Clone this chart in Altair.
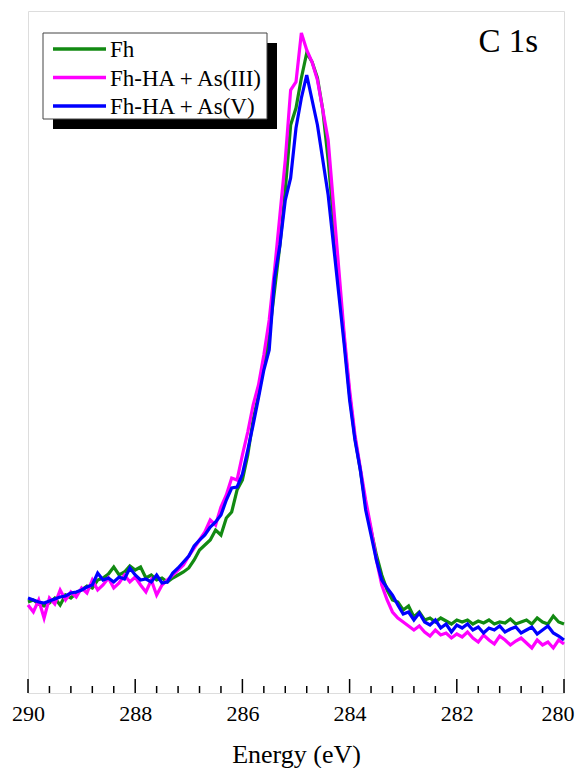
import altair as alt
import pandas as pd

# Binding energy grid (eV), 290.0 -> 280.0 in 0.1 eV steps
energy = [round(290 - 0.1 * i, 1) for i in range(101)]

series_names = ["Fh", "Fh-HA + As(III)", "Fh-HA + As(V)"]
series_colors = ["#128a12", "#ff00ff", "#0000ff"]

fh = [91, 93, 89, 87, 90, 95, 88, 98, 95, 100, 103, 107, 105, 113, 115, 119, 126, 118, 121, 127, 123, 126, 115, 118, 113, 115, 111,
      115, 118, 121, 125, 133, 143, 148, 153, 163, 158, 175, 181, 203, 213,
      238, 273, 298, 328, 358, 403, 448, 503, 568, 585,
      615, 640, 631, 615, 583, 533, 473, 413, 353, 298,
      255, 223, 188, 163, 138, 118, 103, 93, 91, 83,
      87, 76, 81, 73, 75, 71, 75, 72, 69, 73,
      71, 73, 69, 72, 70, 73, 69, 71, 70, 74,
      69, 71, 73, 69, 75, 71, 69, 77, 71, 69]

fh_as3 = [88, 81, 93, 75, 95, 89, 103, 93, 101, 96, 105, 100, 113, 103, 108, 115, 105, 110, 118, 111, 116, 108, 101, 113, 98, 108, 113,
          118, 123, 128, 137, 145, 153, 161, 173, 168, 186, 198, 215, 213, 238,
          261, 288, 308, 338, 373, 423, 478, 533, 603, 611,
          660, 643, 631, 613, 583, 553, 488, 423, 358, 303,
          258, 225, 193, 165, 133, 108, 93, 81, 75, 71,
          67, 63, 67, 61, 57, 63, 58, 60, 55, 59,
          56, 61, 55, 51, 58, 53, 49, 57, 53, 48,
          52, 55, 50, 45, 53, 48, 51, 45, 53, 49]

fh_as5 = [95, 93, 91, 90, 92, 94, 96, 97, 100, 101, 103, 106, 108, 120, 113, 115, 111, 116, 114, 125, 118, 113, 114, 111, 118, 110, 111,
          120, 125, 131, 137, 147, 153, 158, 166, 171, 178, 193, 205, 206, 219,
          243, 268, 295, 323, 343, 415, 448, 493, 515, 565,
          595, 618, 593, 568, 533, 498, 448, 398, 348, 293,
          253, 223, 183, 158, 133, 113, 105, 98, 88, 79,
          81, 73, 80, 71, 68, 73, 65, 69, 61, 68,
          65, 69, 63, 66, 60, 65, 63, 67, 61, 64,
          66, 60, 63, 66, 59, 63, 67, 60, 57, 53]

major_ticks = [290, 288, 286, 284, 282, 280]
minor_ticks = [289.6, 289.2, 288.8, 288.4, 287.6, 287.2, 286.8, 286.4, 285.6, 285.2,
               284.8, 284.4, 283.6, 283.2, 282.8, 282.4, 281.6, 281.2, 280.8, 280.4]

FONT = "Liberation Serif"
W, H = 536, 682

xscale = alt.Scale(domain=[280, 290], reverse=True, nice=False, zero=False)
yscale = alt.Scale(domain=[0, 682], nice=False, zero=False)

one = pd.DataFrame({"a": [0]})

layers = []

# ticks (inside, pointing up)
tick_major = alt.Chart(pd.DataFrame({"E": major_ticks})).mark_rule(color="black", strokeWidth=1.5).encode(
    x=alt.X("E:Q", scale=xscale, title="Energy (eV)",
            axis=alt.Axis(values=major_ticks, format="d", ticks=False, tickSize=0, domain=False, grid=False,
                          labelFlush=False,
                          labelAlign=alt.ExprRef(expr="datum.value == 280 ? 'right' : 'center'"),
                          labelOffset=alt.ExprRef(expr="datum.value == 280 ? 10 : 0"),
                          labelFont=FONT, labelFontSize=22, labelColor="black", labelPadding=10,
                          titleFont=FONT, titleFontSize=26, titleFontWeight="normal", titleColor="black",
                          titlePadding=17)),
    y=alt.value(H), y2=alt.value(H - 14))
tick_minor = alt.Chart(pd.DataFrame({"E": minor_ticks})).mark_rule(color="black", strokeWidth=1.5).encode(
    x=alt.X("E:Q", scale=xscale), y=alt.value(H), y2=alt.value(H - 7))
layers += [tick_major, tick_minor]

for name, col, vals in zip(series_names, series_colors, [fh, fh_as3, fh_as5]):
    d = pd.DataFrame({"energy": energy, "intensity": vals, "series": name})
    layers.append(alt.Chart(d).mark_line(color=col, strokeWidth=3.2, strokeJoin="miter").encode(
        x=alt.X("energy:Q", scale=xscale),
        y=alt.Y("intensity:Q", scale=yscale, axis=None)))

# legend box with shadow
layers.append(alt.Chart(one).mark_rect(color="black").encode(
    x=alt.value(25), x2=alt.value(249), y=alt.value(32), y2=alt.value(118)))
layers.append(alt.Chart(one).mark_rect(fill="white", stroke="#444444", strokeWidth=1).encode(
    x=alt.value(15), x2=alt.value(239), y=alt.value(22), y2=alt.value(108)))
for i, (name, col) in enumerate(zip(series_names, series_colors)):
    yv = 38 + 28.5 * i
    layers.append(alt.Chart(one).mark_rule(color=col, strokeWidth=3.5).encode(
        x=alt.value(25), x2=alt.value(78), y=alt.value(yv)))
    layers.append(alt.Chart(one).mark_text(align="left", baseline="middle", font=FONT, fontSize=23,
                                           color="black").encode(
        x=alt.value(82), y=alt.value(yv + 1), text=alt.value(name)))

layers.append(alt.Chart(one).mark_text(align="right", baseline="alphabetic", font=FONT, fontSize=33,
                                       color="black").encode(
    x=alt.value(510), y=alt.value(41), text=alt.value("C 1s")))

chart = alt.layer(*layers).properties(
    width=W, height=H,
    autosize=alt.AutoSizeParams(type="none"),
    padding={"left": 20, "top": 3, "right": 11, "bottom": 75},
).configure_view(stroke="black", strokeWidth=2).configure(font=FONT)

chart.save("out.html", embed_options={"renderer": "svg", "actions": False})
